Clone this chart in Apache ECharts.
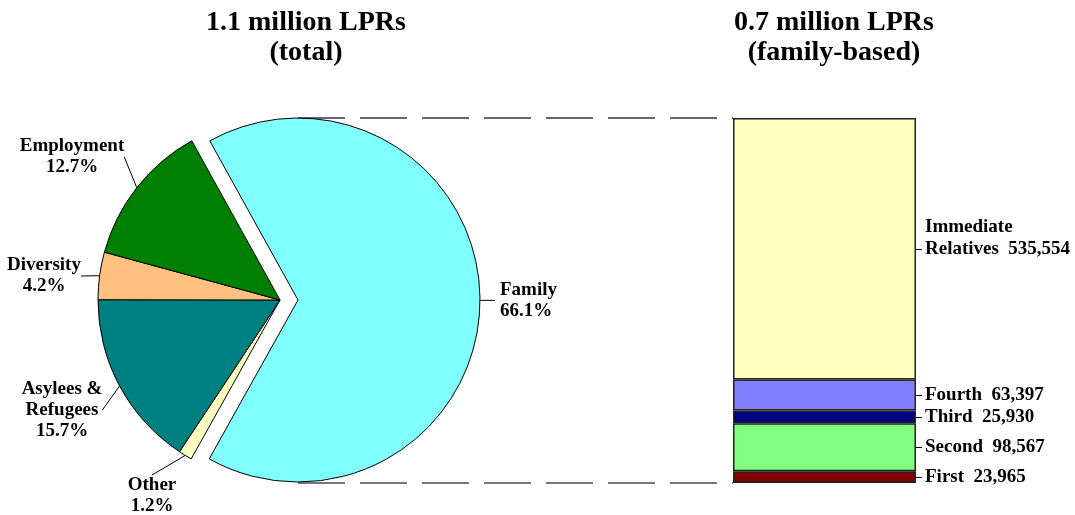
<!DOCTYPE html>
<html><head><meta charset="utf-8">
<script src="https://cdn.jsdelivr.net/npm/echarts@6/dist/echarts.min.js"></script>
<style>html,body{margin:0;padding:0;background:#fff}#c{width:1075px;height:515px}</style>
</head><body><div id="c"></div>
<script>
// ---- data ----
const pieNames = ['Family', 'Other', 'Asylees &\nRefugees', 'Diversity', 'Employment'];
const piePercents = [66.1, 1.2, 15.7, 4.2, 12.7];
const famNames = ['First', 'Second', 'Third', 'Fourth', 'Immediate\nRelatives'];
const famValues = [23965, 98567, 25930, 63397, 535554];
const titles = ['1.1 million LPRs\n(total)', '0.7 million LPRs\n(family-based)'];

// ---- styles ----
const pieColors = ['#80FFFF', '#FFFFC0', '#008080', '#FFC080', '#008000'];
const famColors = ['#800000', '#80FF80', '#000080', '#8080FF', '#FFFFC0'];
const pieLabelPos = [
  null,
  {x: 152, y: 496, align: 'center'},
  {x: 62, y: 410, align: 'center'},
  {x: 44, y: 276, align: 'center'},
  {x: 72, y: 157, align: 'center'}
];
const FONT = "'Liberation Serif', 'Times New Roman', serif";

const total = famValues.reduce((a, b) => a + b, 0);
const mids = [];
let acc = 0;
famValues.forEach(v => { mids.push(acc + v / 2); acc += v; });
function famLabel(v) {
  let best = 0;
  mids.forEach((m, i) => { if (Math.abs(m - v) < Math.abs(mids[best] - v)) best = i; });
  const txt = famNames[best] + '  ' + famValues[best].toLocaleString('en-US');
  return famNames[best].indexOf('\n') >= 0 ? txt + '\n\u00a0' : txt;
}

const gridTop = 118, gridBottom = 32, barLeft = 733, barRight = 159;

const chart = echarts.init(document.getElementById('c'), null, {renderer: 'canvas'});
chart.setOption({
  animation: false,
  backgroundColor: '#fff',
  title: [
    {text: titles[0], left: 301, top: 3, textAlign: 'center',
     textStyle: {fontFamily: FONT, fontWeight: 'bold', fontSize: 28, lineHeight: 30, color: '#000'}},
    {text: titles[1], left: 829, top: 3, textAlign: 'center',
     textStyle: {fontFamily: FONT, fontWeight: 'bold', fontSize: 28, lineHeight: 30, color: '#000'}}
  ],
  grid: {left: barLeft, right: barRight, top: gridTop, bottom: gridBottom, containLabel: false},
  xAxis: {type: 'category', data: ['family'], show: false},
  yAxis: [
    {type: 'value', min: 0, max: total, show: false},
    {type: 'value', min: 0, max: total, position: 'right',
     axisLine: {show: false}, splitLine: {show: false},
     axisTick: {show: true, customValues: mids, length: 6, lineStyle: {color: '#000', width: 1}},
     axisLabel: {show: true, customValues: mids, formatter: famLabel, margin: 9,
       fontFamily: FONT, fontWeight: 'bold', fontSize: 19, lineHeight: 22, color: '#000', align: 'left'}}
  ],
  graphic: [
    {type: 'line', z: 0, shape: {x1: 298, y1: gridTop, x2: barLeft, y2: gridTop},
     style: {stroke: '#666', lineWidth: 2, lineDash: [47, 15]}},
    {type: 'line', z: 0, shape: {x1: 298, y1: 515 - gridBottom, x2: barLeft, y2: 515 - gridBottom},
     style: {stroke: '#777', lineWidth: 2, lineDash: [47, 15]}}
  ],
  series: famValues.map((v, i) => ({
    type: 'bar', stack: 'fam', name: famNames[i], data: [v], barWidth: '100%',
    itemStyle: {color: famColors[i], borderColor: '#222', borderWidth: 1.5},
    emphasis: {disabled: true}, z: 3
  })).concat([{
    type: 'pie', center: [280, 300], radius: 182, startAngle: 119, clockwise: true,
    selectedMode: 'single', selectedOffset: 18, avoidLabelOverlap: false, z: 4,
    data: pieNames.map((n, i) => {
      const d = {name: n, value: piePercents[i], selected: i === 0, itemStyle: {color: pieColors[i]}};
      if (i === 0) d.labelLine = {length: 15, length2: 0};
      return d;
    }),
    itemStyle: {borderColor: '#000', borderWidth: 1},
    select: {itemStyle: {borderColor: '#000', borderWidth: 1}},
    emphasis: {disabled: true},
    label: {show: true, position: 'outside',
      formatter: p => p.name + '\n' + p.value.toFixed(1) + '%',
      fontFamily: FONT, fontWeight: 'bold', fontSize: 19, lineHeight: 21, color: '#000'},
    labelLine: {show: true, length: 10, length2: 0, lineStyle: {color: '#000', width: 1}},
    labelLayout: p => {
      const c = pieLabelPos[p.dataIndex];
      return c ? {x: c.x, y: c.y, align: c.align, verticalAlign: 'middle'} : {};
    }
  }])
});
</script></body></html>
